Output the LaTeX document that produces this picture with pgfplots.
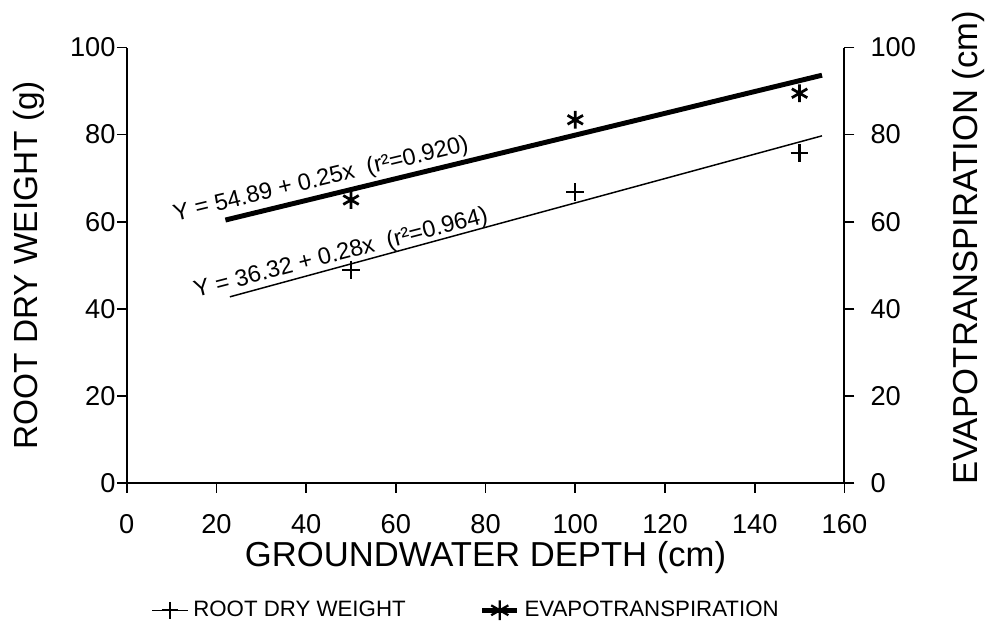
\documentclass[border=0pt]{standalone}
\usepackage{fontspec}
\setmainfont{Liberation Sans}
\usepackage{pgfplots}
\pgfplotsset{compat=1.18}

\begin{document}
\begin{tikzpicture}
% shared look of both axes
\pgfplotsset{
  every axis/.append style={
    scale only axis, width=290pt, height=176pt,
    xmin=0, xmax=160, ymin=0, ymax=100,
    axis line style={line width=0.8pt},
    tick style={line width=0.7pt, black},
    tick align=outside, major tick length=4pt,
    ticklabel style={font=\fontsize{11}{13}\selectfont},
    /pgf/number format/assume math mode=true,
    clip=false,
  },
}
\begin{axis}[
  name=main,
  axis x line*=bottom, axis y line*=left,
  xtick={0,20,...,160}, ytick={0,20,...,100},
  xticklabel style={yshift=-5pt},
  yticklabel style={xshift=3pt},
  xlabel={GROUNDWATER DEPTH (cm)},
  ylabel={ROOT DRY WEIGHT (g)},
  xlabel style={font=\fontsize{14}{16}\selectfont, at={(axis description cs:0.5,-0.171)}, anchor=center},
  ylabel style={font=\fontsize{13.5}{15}\selectfont, at={(axis description cs:-0.136,0.5)}, anchor=center},
  legend style={at={(axis description cs:0.475,-0.292)}, anchor=center, draw=none, fill=none,
    legend columns=2, font=\fontsize{9}{11}\selectfont,
    /tikz/every even column/.append style={column sep=28pt}},
  legend image code/.code={\draw[mark repeat=2,mark phase=2] plot coordinates {(0cm,0cm)(0.25cm,0cm)(0.5cm,0cm)};},
]
% legend entries
\addlegendimage{black, line width=0.6pt, mark=+, mark size=3.4pt, mark options={line width=0.8pt}}
\addlegendentry{ROOT DRY WEIGHT}
\addlegendimage{black, line width=1.8pt, mark=asterisk, mark size=4pt, mark options={line width=0.9pt}}
\addlegendentry{EVAPOTRANSPIRATION}
% root dry weight: observations and fitted line
\addplot[forget plot, only marks, mark=+, mark size=3.6pt, mark options={line width=0.9pt}]
  coordinates {(50,49) (100,66.8) (150,75.7)};
\addplot[forget plot, black, line width=0.6pt] coordinates {(23,42.76) (155,79.72)};
\node[rotate=14.5, font=\fontsize{9.5}{11}\selectfont] at (axis cs:47.8,52.6)
  {Y = 36.32 + 0.28x\ \ (r²=0.964)};
\end{axis}
\begin{axis}[
  hide x axis, axis y line*=right,
  ytick={0,20,...,100},
  yticklabel style={xshift=3pt},
  ylabel={EVAPOTRANSPIRATION (cm)},
  ylabel style={font=\fontsize{14}{16}\selectfont, at={(axis description cs:1.173,0.54)}, anchor=center},
]
% evapotranspiration: observations and fitted line
\addplot[only marks, mark=asterisk, mark size=3.6pt, mark options={line width=1.1pt}]
  coordinates {(50,65) (100,83.4) (150,89.5)};
\addplot[black, line width=2pt] coordinates {(22,60.39) (155,93.64)};
\node[rotate=13.5, font=\fontsize{9.5}{11}\selectfont] at (axis cs:43.3,69.6)
  {Y = 54.89 + 0.25x\ \ (r²=0.920)};
\end{axis}
\path[use as bounding box] ([xshift=-51.2pt,yshift=-55.6pt]main.south west)
  rectangle ([xshift=56pt,yshift=19.2pt]main.north east);
\end{tikzpicture}
\end{document}
